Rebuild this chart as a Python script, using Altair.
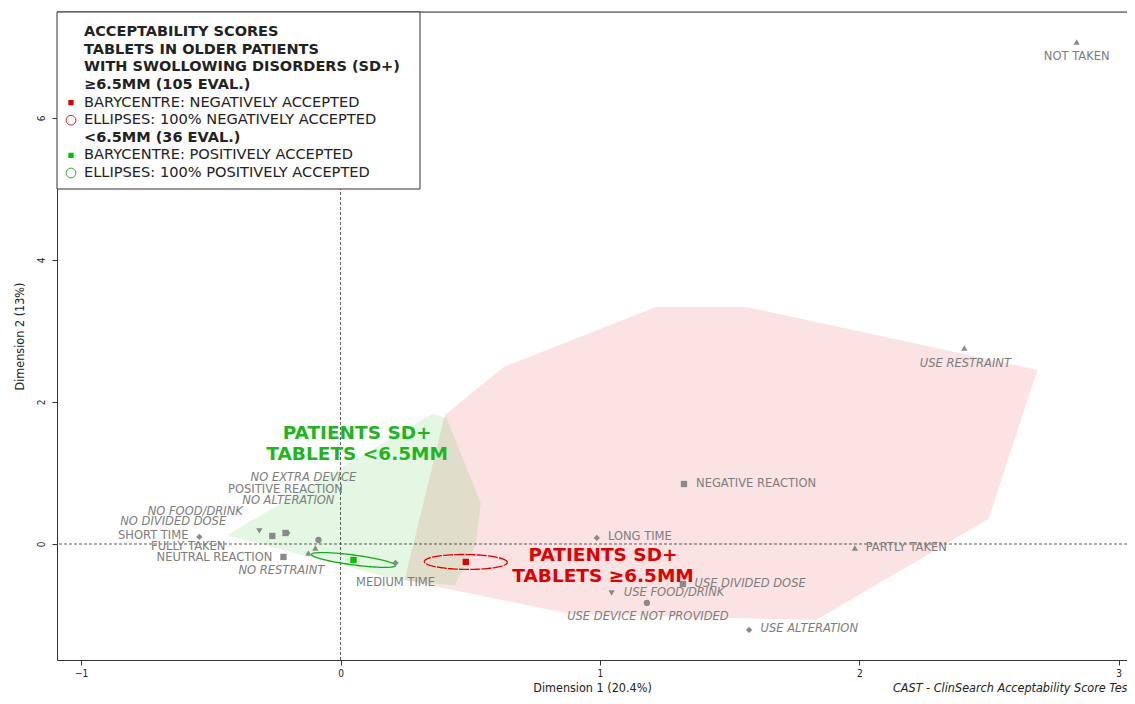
import altair as alt
import numpy as np
import pandas as pd

# ---------------- data ----------------
categories = ["NOT TAKEN", "USE RESTRAINT", "NEGATIVE REACTION", "LONG TIME", "PARTLY TAKEN",
              "USE DIVIDED DOSE", "USE FOOD/DRINK", "USE DEVICE NOT PROVIDED", "USE ALTERATION",
              "MEDIUM TIME", "SHORT TIME", "NO FOOD/DRINK", "NO DIVIDED DOSE", "NO ALTERATION",
              "POSITIVE REACTION", "NO EXTRA DEVICE", "NO RESTRAINT", "FULLY TAKEN", "NEUTRAL REACTION"]
variables = ["taken", "restraint", "reaction", "time", "taken",
             "divided", "food", "device", "alteration",
             "time", "time", "food", "divided", "alteration",
             "reaction", "device", "restraint", "taken", "reaction"]
dim1 = [2.838, 2.405, 1.324, 0.988, 1.983, 1.320, 1.045, 1.181, 1.575,
        0.212, -0.544, -0.313, -0.263, -0.205, -0.212, -0.085, -0.097, -0.124, -0.220]
dim2 = [7.07, 2.76, 0.845, 0.085, -0.056, -0.563, -0.69, -0.83, -1.21,
        -0.268, 0.099, 0.183, 0.113, 0.155, 0.155, 0.056, -0.056, -0.127, -0.183]
label_dim1 = [2.838, 2.409, 1.602, 1.154, 2.181, 1.579, 1.286, 1.185, 1.807,
              0.212, -0.722, -0.560, -0.645, -0.201, -0.212, -0.143, -0.228, -0.587, -0.486]
label_dim2 = [6.859, 2.535, 0.845, 0.099, -0.056, -0.563, -0.69, -1.028, -1.197,
              -0.549, 0.113, 0.451, 0.310, 0.606, 0.761, 0.930, -0.380, -0.042, -0.197]

# convex hulls of the two groups
hull_neg_dim1 = [0.402, 0.629, 1.216, 1.568, 2.687, 2.498, 1.834, 0.884, 0.247]
hull_neg_dim2 = [1.817, 2.493, 3.338, 3.338, 2.451, 0.352, -1.070, -0.986, -0.507]
hull_pos_dim1 = [-0.436, 0.355, 0.409, 0.541, 0.521, 0.440, 0.228, -0.120]
hull_pos_dim2 = [0.127, 1.831, 1.775, 0.577, -0.014, -0.580, -0.507, -0.183]

# barycentres and confidence ellipses (negative group, positive group)
groups = ["neg", "pos"]
bary_dim1 = [0.483, 0.050]
bary_dim2 = [-0.253, -0.225]
ell_major = [(0.160, -0.006), (0.162, -0.0775)]
ell_minor = [(0.0, 0.105), (0.0, 0.070)]

group_text = ["PATIENTS SD+\nTABLETS ≥6.5MM", "PATIENTS SD+\nTABLETS <6.5MM"]
group_dim1 = [1.012, 0.064]
group_dim2 = [-0.155, 1.563]

legend_text = ["ACCEPTABILITY SCORES", "TABLETS IN OLDER PATIENTS", "WITH SWOLLOWING DISORDERS (SD+)",
               "≥6.5MM (105 EVAL.)", "BARYCENTRE: NEGATIVELY ACCEPTED", "ELLIPSES: 100% NEGATIVELY ACCEPTED",
               "<6.5MM (36 EVAL.)", "BARYCENTRE: POSITIVELY ACCEPTED", "ELLIPSES: 100% POSITIVELY ACCEPTED"]
legend_bold = [1, 1, 1, 1, 0, 0, 1, 0, 0]
legend_symbol = ["", "", "", "", "square", "circle", "", "square", "circle"]
legend_group = ["", "", "", "", "neg", "neg", "", "pos", "pos"]

x_ticks = [-1, 0, 1, 2, 3]
y_ticks = [0, 2, 4, 6]

# ---------------- styling ----------------
RED = "#e00000"
GREEN = "#1fb51f"
GRAY = "#7d7d7d"
SHAPES = {"taken": "triangle-up", "restraint": "triangle-up", "reaction": "square",
          "time": "diamond", "divided": "square", "food": "triangle-down",
          "device": "circle", "alteration": "diamond"}
W, H = 1070, 648
XMIN, XMAX = -1.093, 3.032
YMIN, YMAX = -1.634, 7.493
FONT = "DejaVu Sans"
COND = "DejaVu Sans Condensed, Liberation Sans Narrow, DejaVu Sans"

xs = alt.Scale(domain=[XMIN, XMAX], nice=False, zero=False)
ys = alt.Scale(domain=[YMIN, YMAX], nice=False, zero=False)

pts = pd.DataFrame({"cat": categories, "var": variables, "d1": dim1, "d2": dim2,
                    "l1": label_dim1, "l2": label_dim2})
pts["shape"] = pts["var"].map(SHAPES)
pts["italic"] = pts["cat"].str.startswith(("NO ", "USE "))

def hull(d1, d2, name):
    xs_ = list(d1) + [d1[0]]
    ys_ = list(d2) + [d2[0]]
    return pd.DataFrame({"d1": xs_, "d2": ys_, "o": range(len(xs_)), "g": name})

hulls = pd.concat([hull(hull_neg_dim1, hull_neg_dim2, "neg"),
                   hull(hull_pos_dim1, hull_pos_dim2, "pos")])

t = np.linspace(0, 2 * np.pi, 121)
ell_rows = []
for g, cx, cy, u, v in zip(groups, bary_dim1, bary_dim2, ell_major, ell_minor):
    for i, tt in enumerate(t):
        ell_rows.append({"g": g, "o": i,
                         "d1": cx + u[0] * np.cos(tt) + v[0] * np.sin(tt),
                         "d2": cy + u[1] * np.cos(tt) + v[1] * np.sin(tt)})
ells = pd.DataFrame(ell_rows)

bary = pd.DataFrame({"g": groups, "d1": bary_dim1, "d2": bary_dim2})
gtext = pd.DataFrame({"g": groups, "txt": group_text, "d1": group_dim1, "d2": group_dim2})

X = lambda f, **k: alt.X(f, type="quantitative", scale=xs, **k)
Y = lambda f, **k: alt.Y(f, type="quantitative", scale=ys, **k)

base_axes = alt.Chart(pts).mark_point(opacity=0).encode(
    x=X("d1", axis=alt.Axis(values=x_ticks, format="d", title="Dimension 1 (20.4%)",
                            grid=False, tickSize=5, labelPadding=3, titlePadding=3,
                            labelFont=COND, labelFontSize=10, titleFont=COND, titleFontSize=12.5,
                            titleFontWeight="normal", domainColor="#333", tickColor="#333",
                            labelColor="#222", titleColor="#222")),
    y=Y("d2", axis=alt.Axis(values=y_ticks, format="d", title="Dimension 2 (13%)",
                            grid=False, tickSize=5, labelPadding=6, titlePadding=10,
                            labelAngle=270, labelAlign="center", labelBaseline="bottom",
                            labelFont=COND, labelFontSize=10, titleFont=COND, titleFontSize=12.5,
                            titleFontWeight="normal", domainColor="#333", tickColor="#333",
                            labelColor="#222", titleColor="#222")),
)

hull_neg = alt.Chart(hulls).transform_filter("datum.g == 'neg'").mark_line(
    fill=RED, fillOpacity=0.11, strokeOpacity=0, interpolate="linear").encode(
    x=X("d1"), y=Y("d2"), order="o:Q")
hull_pos = alt.Chart(hulls).transform_filter("datum.g == 'pos'").mark_line(
    fill="#00b400", fillOpacity=0.11, strokeOpacity=0, interpolate="linear").encode(
    x=X("d1"), y=Y("d2"), order="o:Q")

zero_df = pd.DataFrame({"z": [0]})
vrule = alt.Chart(zero_df).mark_rule(color="#333", strokeWidth=0.8, strokeDash=[3, 2]).encode(x=X("z"))
hrule = alt.Chart(zero_df).mark_rule(color="#333", strokeWidth=0.8, strokeDash=[3, 2]).encode(y=Y("z"))
top_rule = alt.Chart(zero_df).mark_rule(color="#333", strokeWidth=1).encode(
    x=alt.value(0), x2=alt.value(W), y=alt.value(0))

ell_neg = alt.Chart(ells).transform_filter("datum.g == 'neg'").mark_line(
    color=RED, strokeWidth=1.3, strokeDash=[10, 1.2]).encode(x=X("d1"), y=Y("d2"), order="o:Q")
ell_pos = alt.Chart(ells).transform_filter("datum.g == 'pos'").mark_line(
    color="#1aa81a", strokeWidth=1.3).encode(x=X("d1"), y=Y("d2"), order="o:Q")

points = alt.Chart(pts).mark_point(filled=True, color="#8a8a8a", size=40, opacity=1).encode(
    x=X("d1"), y=Y("d2"), shape=alt.Shape("shape:N", scale=None))

lab_plain = alt.Chart(pts).transform_filter("!datum.italic").mark_text(
    font=FONT, fontSize=11.5, color=GRAY, baseline="middle", align="center").encode(
    x=X("l1"), y=Y("l2"), text="cat:N")
lab_ital = alt.Chart(pts).transform_filter("datum.italic").mark_text(
    font=FONT, fontSize=11.5, color=GRAY, fontStyle="italic", baseline="middle", align="center").encode(
    x=X("l1"), y=Y("l2"), text="cat:N")

gtxt = alt.Chart(gtext).mark_text(font=FONT, fontSize=18.5, fontWeight="bold", lineBreak="\n",
                                  lineHeight=21, align="center", baseline="middle").encode(
    x=X("d1"), y=Y("d2"), text="txt:N",
    color=alt.Color("g:N", scale=alt.Scale(domain=groups, range=[RED, GREEN]), legend=None))

bary_pts = alt.Chart(bary).mark_point(shape="square", filled=True, size=40, opacity=1).encode(
    x=X("d1"), y=Y("d2"),
    color=alt.Color("g:N", scale=alt.Scale(domain=groups, range=[RED, "#00c000"]), legend=None))

# ---------------- legend box (pixel layout) ----------------
leg = pd.DataFrame({"txt": legend_text, "bold": legend_bold, "sym": legend_symbol, "g": legend_group})
leg["py"] = 20.2 + 17.6 * np.arange(len(leg))
leg["tx"] = 27
leg["sx"] = 14
box = alt.Chart(zero_df).mark_rect(fill="white", stroke="#333", strokeWidth=1).encode(
    x=alt.value(0), x2=alt.value(363), y=alt.value(0), y2=alt.value(177))
leg_bold = alt.Chart(leg).transform_filter("datum.bold == 1").mark_text(
    font=FONT, fontSize=14.5, fontWeight="bold", color="#222", align="left", baseline="middle").encode(
    x=alt.X("tx:Q", scale=None), y=alt.Y("py:Q", scale=None), text="txt:N")
leg_norm = alt.Chart(leg).transform_filter("datum.bold == 0").mark_text(
    font=FONT, fontSize=14.6, color="#222", align="left", baseline="middle").encode(
    x=alt.X("tx:Q", scale=None), y=alt.Y("py:Q", scale=None), text="txt:N")
leg_sq = alt.Chart(leg).transform_filter("datum.sym == 'square'").mark_point(
    shape="square", filled=True, size=28, opacity=1).encode(
    x=alt.X("sx:Q", scale=None), y=alt.Y("py:Q", scale=None),
    color=alt.Color("g:N", scale=alt.Scale(domain=groups, range=[RED, "#00c000"]), legend=None))
leg_ci = alt.Chart(leg).transform_filter("datum.sym == 'circle'").mark_point(
    shape="circle", filled=False, size=95, strokeWidth=1, opacity=1).encode(
    x=alt.X("sx:Q", scale=None), y=alt.Y("py:Q", scale=None),
    color=alt.Color("g:N", scale=alt.Scale(domain=groups, range=["#c03030", "#30b030"]), legend=None))

credit = alt.Chart(zero_df).mark_text(
    text="CAST - ClinSearch Acceptability Score Test©", font=COND, fontSize=12.5, fontStyle="italic",
    color="#222", align="left", baseline="middle").encode(x=alt.value(836), y=alt.value(676))

chart = alt.layer(
    base_axes, hull_neg, hull_pos, vrule, hrule, top_rule, ell_neg, ell_pos, points,
    lab_plain, lab_ital, gtxt, bary_pts, box, leg_bold, leg_norm, leg_sq, leg_ci, credit
).resolve_scale(color="independent").properties(
    width=W, height=H,
    autosize=alt.AutoSizeParams(type="none"),
    padding={"left": 49, "top": 4, "right": 0, "bottom": 36},
).configure_view(stroke=None).configure(background="white")

chart.save("out.html", embed_options={"renderer": "svg", "actions": False})
